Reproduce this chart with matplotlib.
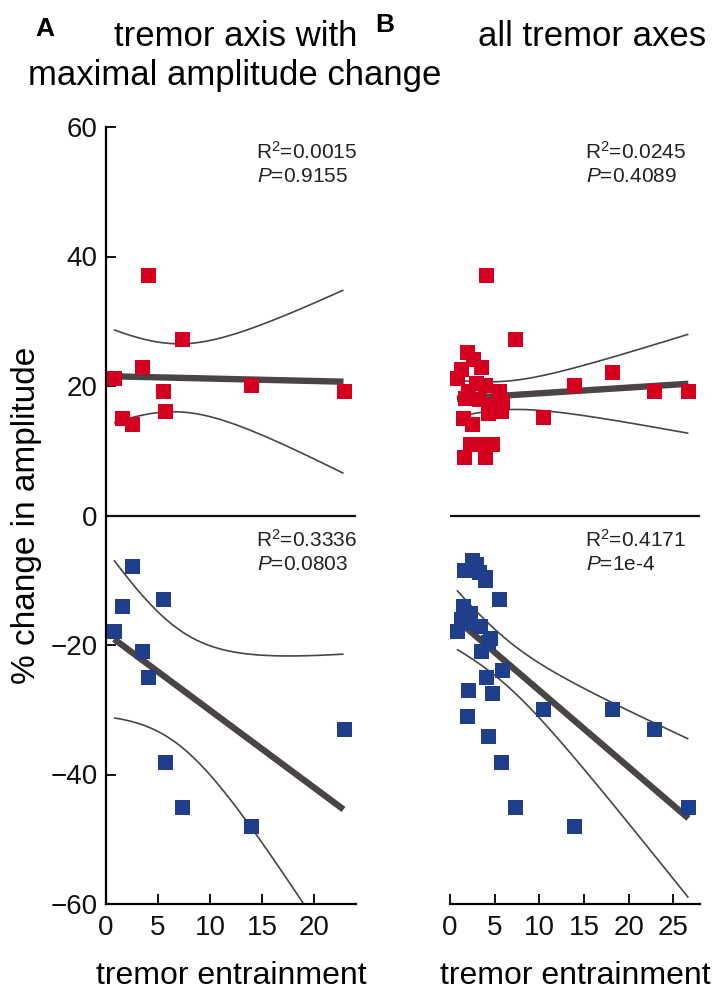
import math
import numpy as np
import matplotlib
matplotlib.use("Agg")
import matplotlib.pyplot as plt
from matplotlib import font_manager

# ---------------- data ----------------
# Panel A: tremor axis with maximal amplitude change (10 subjects)
a_x = [0.77, 1.5, 2.5, 3.5, 4.05, 5.5, 5.7, 7.3, 13.9, 22.8]
a_up = [21.2, 15.1, 14.2, 23.0, 37.2, 19.2, 16.2, 27.2, 20.2, 19.2]
a_down = [-17.9, -13.9, -7.8, -20.9, -25.0, -12.9, -38.0, -45.0, -48.0, -32.9]

# Panel B: all tremor axes (30 axes)
b_x = [0.77, 1.5, 2.5, 3.5, 4.05, 5.5, 5.7, 7.3, 13.9, 22.8,
       26.7, 18.1, 10.4, 1.87, 2.6, 1.2, 3.9, 1.6, 3.3, 2.2,
       3.4, 4.5, 5.8, 2.0, 4.7, 4.3, 1.7, 3.9, 4.2, 2.9]
b_up = [21.2, 15.1, 14.2, 23.0, 37.2, 19.2, 16.2, 27.2, 20.2, 19.2,
        19.2, 22.2, 15.2, 25.2, 24.1, 22.6, 20.2, 9.0, 18.0, 11.1,
        11.1, 17.1, 17.6, 19.2, 11.1, 16.1, 18.2, 9.0, 15.8, 20.5]
b_down = [-17.9, -14.0, -6.9, -20.9, -25.0, -12.9, -38.0, -45.0, -48.0, -32.9,
          -45.0, -29.9, -29.9, -31.0, -8.4, -16.0, -9.9, -8.4, -8.8, -15.0,
          -17.0, -18.9, -23.9, -27.0, -27.4, -34.0, -16.5, -9.5, -19.5, -7.5]

stats_a = [("R$^2$=0.0015", "$\\it{P}$=0.9155"), ("R$^2$=0.3336", "$\\it{P}$=0.0803")]
stats_b = [("R$^2$=0.0245", "$\\it{P}$=0.4089"), ("R$^2$=0.4171", "$\\it{P}$=1e-4")]

a_xticks = [0, 5, 10, 15, 20]
b_xticks = [0, 5, 10, 15, 20, 25]
yticks = [60, 40, 20, 0, -20, -40, -60]

RED = "#d5001f"
BLUE = "#1f3f8c"
LINE = "#4a4545"

# ---------------- fonts ----------------
names = {f.name for f in font_manager.fontManager.ttflist}
NARROW = "Liberation Sans Narrow" if "Liberation Sans Narrow" in names else "Liberation Sans"
plt.rcParams["font.family"] = ["Liberation Sans", "DejaVu Sans"]
plt.rcParams["mathtext.fontset"] = "custom"
plt.rcParams["mathtext.rm"] = "Liberation Sans"
plt.rcParams["mathtext.it"] = "Liberation Sans:italic"


def t_crit(df, q=0.975):
    c = math.gamma((df + 1) / 2) / (math.sqrt(df * math.pi) * math.gamma(df / 2))
    grid = np.linspace(0, 20, 200001)
    pdf = c * (1 + grid ** 2 / df) ** (-(df + 1) / 2)
    cdf = 0.5 + np.concatenate([[0], np.cumsum((pdf[1:] + pdf[:-1]) / 2 * np.diff(grid))])
    return float(np.interp(q, cdf, grid))


def fit_and_draw(ax, x, y, color):
    x = np.asarray(x, float)
    y = np.asarray(y, float)
    n = len(x)
    slope, inter = np.polyfit(x, y, 1)
    resid = y - (slope * x + inter)
    s = np.sqrt(np.sum(resid ** 2) / (n - 2))
    xm = x.mean()
    sxx = np.sum((x - xm) ** 2)
    t = t_crit(n - 2)
    xs = np.linspace(x.min(), x.max(), 200)
    yh = slope * xs + inter
    half = t * s * np.sqrt(1 / n + (xs - xm) ** 2 / sxx)
    ax.plot(xs, yh + half, color=LINE, lw=1.2, zorder=2, solid_capstyle="butt")
    ax.plot(xs, yh - half, color=LINE, lw=1.2, zorder=2, solid_capstyle="butt")
    ax.plot(xs, yh, color=LINE, lw=4.6, zorder=3, solid_capstyle="butt")
    ax.plot(x, y, ls="none", marker="s", ms=10.8, mew=0, color=color, zorder=4)


W, H = 720, 993
fig = plt.figure(figsize=(W / 100, H / 100), dpi=100)


def fx(px):
    return px / W


def fy(py):
    return 1 - py / H


y_top, y_bot = 127, 904
axA = fig.add_axes([fx(106), fy(y_bot), (356 - 106) / W, (y_bot - y_top) / H])
axB = fig.add_axes([fx(450), fy(y_bot), (700 - 450) / W, (y_bot - y_top) / H])

for ax, xs_, up, dn, xmax, xt in [(axA, a_x, a_up, a_down, 24, a_xticks),
                                  (axB, b_x, b_up, b_down, 28, b_xticks)]:
    ax.set_xlim(0, xmax)
    ax.set_ylim(-60, 60)
    ax.patch.set_alpha(0)
    for sp in ["top", "right"]:
        ax.spines[sp].set_visible(False)
    ax.spines["bottom"].set_linewidth(1.6)
    ax.spines["left"].set_linewidth(1.6)
    ax.axhline(0, color="#111111", lw=1.6, zorder=1)
    ax.set_xticks(xt)
    ax.set_xticklabels([str(v) for v in xt], fontfamily=NARROW, fontsize=20)
    ax.tick_params(axis="x", direction="in", length=7, width=1.4, pad=8, colors="#111111")
    fit_and_draw(ax, xs_, up, RED)
    fit_and_draw(ax, xs_, dn, BLUE)
    ax.set_xlabel("tremor entrainment", fontfamily=NARROW, fontsize=23, labelpad=14)

axA.set_yticks(yticks)
axA.set_yticklabels([("\u2212" + str(-v)) if v < 0 else str(v) for v in yticks], fontsize=20)
axA.tick_params(axis="y", direction="in", length=7, width=1.4, pad=6, colors="#111111")
axA.set_ylabel("% change in amplitude", fontfamily=NARROW, fontsize=24, labelpad=6)

axB.spines["left"].set_visible(False)
axB.set_yticks([])

# titles
fig.text(fx(45), fy(29), "A", fontsize=19, fontweight="bold", ha="center", va="center")
fig.text(fx(385), fy(25), "B", fontsize=19, fontweight="bold", ha="center", va="center")
fig.text(fx(236), fy(36), "tremor axis with", fontfamily=NARROW, fontsize=25, ha="center", va="center")
fig.text(fx(235), fy(76), "maximal amplitude change", fontfamily=NARROW, fontsize=25, ha="center", va="center")
fig.text(fx(592), fy(36), "all tremor axes", fontfamily=NARROW, fontsize=25, ha="center", va="center")

# statistics text
for (r, p), (xr, yr) in zip(stats_a + stats_b,
                             [(256, 152), (256, 540), (585, 152), (585, 540)]):
    fig.text(fx(xr), fy(yr), r, fontsize=15, ha="left", va="center", color="#222222")
    fig.text(fx(xr + 1), fy(yr + 25), p, fontsize=15, ha="left", va="center", color="#222222")

fig.savefig("out.png", dpi=100)
